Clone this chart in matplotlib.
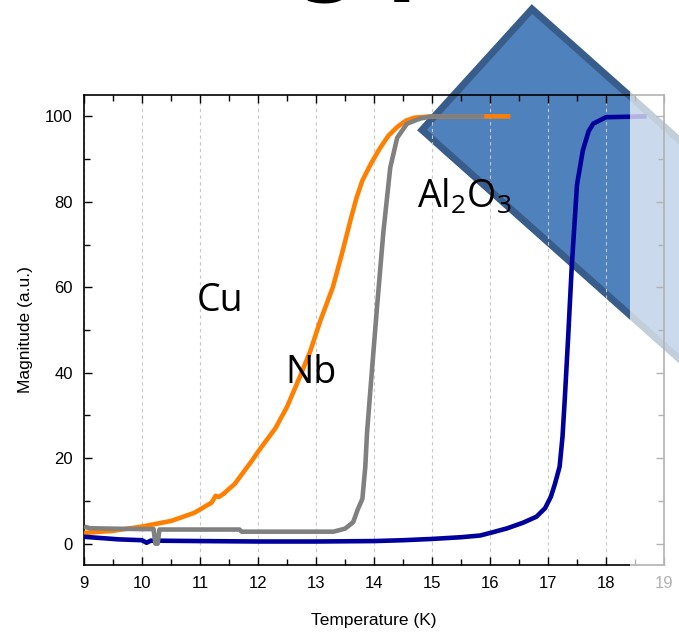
import matplotlib
matplotlib.use("Agg")
import matplotlib.pyplot as plt
from matplotlib.patches import Polygon, Rectangle
from matplotlib.ticker import MultipleLocator

# ---------------- data ----------------
orange_T = [9.0, 9.5, 10.0, 10.5, 10.9, 11.2, 11.27, 11.32, 11.4, 11.6, 11.9, 12.0, 12.3, 12.5,
            12.72, 12.9, 13.07, 13.29, 13.45, 13.6, 13.7, 13.8, 13.95, 14.1, 14.25, 14.4,
            14.55, 14.7, 15.0, 16.35]
orange_v = [2.5, 3.0, 4.0, 5.3, 7.2, 9.6, 11.2, 10.9, 11.6, 14.0, 19.5, 21.5, 27.0, 32.0,
            39.0, 45.0, 52.0, 60.0, 68.0, 76.0, 81.0, 85.0, 89.0, 92.5, 95.5, 97.5,
            99.0, 99.7, 100.0, 100.0]

gray_T = [9.0, 9.1, 9.5, 10.0, 10.2, 10.23, 10.27, 10.3, 11.0, 11.68, 11.72, 13.3, 13.5,
          13.64, 13.72, 13.8, 13.85, 13.88, 13.97, 14.05, 14.16, 14.28, 14.4, 14.57,
          14.8, 15.0, 15.9]
gray_v = [4.0, 3.6, 3.5, 3.4, 3.4, 0.0, 0.0, 3.3, 3.3, 3.3, 2.8, 2.8, 3.5,
          5.0, 8.0, 10.5, 18.0, 26.0, 41.5, 55.0, 72.7, 88.0, 95.0, 98.3,
          99.5, 100.0, 100.0]

blue_T = [9.0, 9.3, 9.6, 10.0, 10.08, 10.15, 11.0, 12.0, 13.0, 14.0, 14.5, 15.0, 15.5,
          15.83, 16.03, 16.3, 16.57, 16.8, 16.95, 17.05, 17.12, 17.2, 17.25, 17.29, 17.35,
          17.41, 17.5, 17.6, 17.7, 17.78, 18.0, 18.7]
blue_v = [1.6, 1.3, 1.0, 0.8, 0.2, 0.7, 0.6, 0.5, 0.5, 0.6, 0.8, 1.1, 1.5,
          1.9, 2.6, 3.6, 4.9, 6.3, 8.3, 11.0, 14.0, 18.0, 25.0, 34.0, 49.0,
          65.0, 84.0, 92.0, 96.5, 98.3, 99.8, 100.0]

x_ticks = [9, 10, 11, 12, 13, 14, 15, 16, 17, 18, 19]
y_ticks = [0, 20, 40, 60, 80, 100]

# ---------------- figure ----------------
W, H = 679, 633
fig = plt.figure(figsize=(W / 100, H / 100), dpi=100)
plt.rcParams['font.family'] = ['Liberation Sans', 'DejaVu Sans']
plt.rcParams['mathtext.fontset'] = 'custom'
plt.rcParams['mathtext.rm'] = 'Open Sans'
plt.rcParams['mathtext.it'] = 'Open Sans'

def fx(px):
    return px / W

def fy(py):
    return 1 - py / H

ax = fig.add_axes([fx(84), fy(565), fx(664) - fx(84), fy(95) - fy(565)])
ax.set_facecolor('none')

# clipped big title letters at top
fig.text(fx(328), 1.025, "g", fontsize=62, fontweight='bold', ha='center',
         va='baseline', family='DejaVu Sans', color='black')
fig.text(fx(418), 1.025, "p", fontsize=62, fontweight='bold', ha='center',
         va='baseline', family='DejaVu Sans', color='black')

# blue diamond shape behind the plot
L = 450
p1 = (532, 9)
p2 = (422, 130)
p3 = (p2[0] + L, p2[1] + 0.89 * L)
p4 = (p1[0] + L, p1[1] + 0.89 * L)
poly = Polygon([(fx(x), fy(y)) for x, y in [p1, p2, p3, p4]], closed=True,
               transform=fig.transFigure, facecolor='#4f81bd', edgecolor='#385d8a',
               linewidth=5, joinstyle='miter', zorder=-1)
fig.add_artist(poly)

# curves
ax.plot(orange_T, orange_v, color='#ff8000', lw=3.3, solid_capstyle='butt',
        solid_joinstyle='round', zorder=3)
ax.plot(blue_T, blue_v, color='#00009c', lw=3.3, solid_capstyle='butt',
        solid_joinstyle='round', zorder=4)
ax.plot(gray_T, gray_v, color='#808080', lw=3.3, solid_capstyle='butt',
        solid_joinstyle='round', zorder=5)

ax.set_xlim(9, 19)
ax.set_ylim(-5, 105)
ax.set_xticks(x_ticks)
ax.set_xticklabels([str(t) for t in x_ticks])
ax.set_yticks(y_ticks)
ax.xaxis.set_minor_locator(MultipleLocator(0.5))
ax.yaxis.set_minor_locator(MultipleLocator(10))
ax.tick_params(which='both', direction='in', top=True, right=True, labelsize=12,
               width=1.0, color='black')
ax.tick_params(which='major', length=6, pad=8)
ax.tick_params(which='minor', length=4)
for s in ax.spines.values():
    s.set_linewidth(1.2)
ax.grid(axis='x', which='major', linestyle=(0, (3, 3)), color='#c8c8c8', lw=0.8)
ax.set_axisbelow(True)

ax.set_xlabel("Temperature (K)", fontsize=12.5, labelpad=16)
ax.set_ylabel("Magnitude (a.u.)", fontsize=12.5, labelpad=9)

# annotations
ax.text(11.35, 56.8, "Cu", fontsize=27, family='Open Sans', ha='center', va='center', zorder=6)
ax.text(12.92, 40.0, "Nb", fontsize=27, family='Open Sans', ha='center', va='center', zorder=6)
ax.text(15.55, 81.0, r"Al$_2$O$_3$", fontsize=27, family='Open Sans', ha='center',
        va='center', zorder=6)

# white fade over right strip
fade = Rectangle((fx(630), 0), 1 - fx(630), 1, transform=fig.transFigure,
                 facecolor='white', alpha=0.7, edgecolor='none', zorder=20)
fig.add_artist(fade)

fig.savefig("out.png", dpi=100)
